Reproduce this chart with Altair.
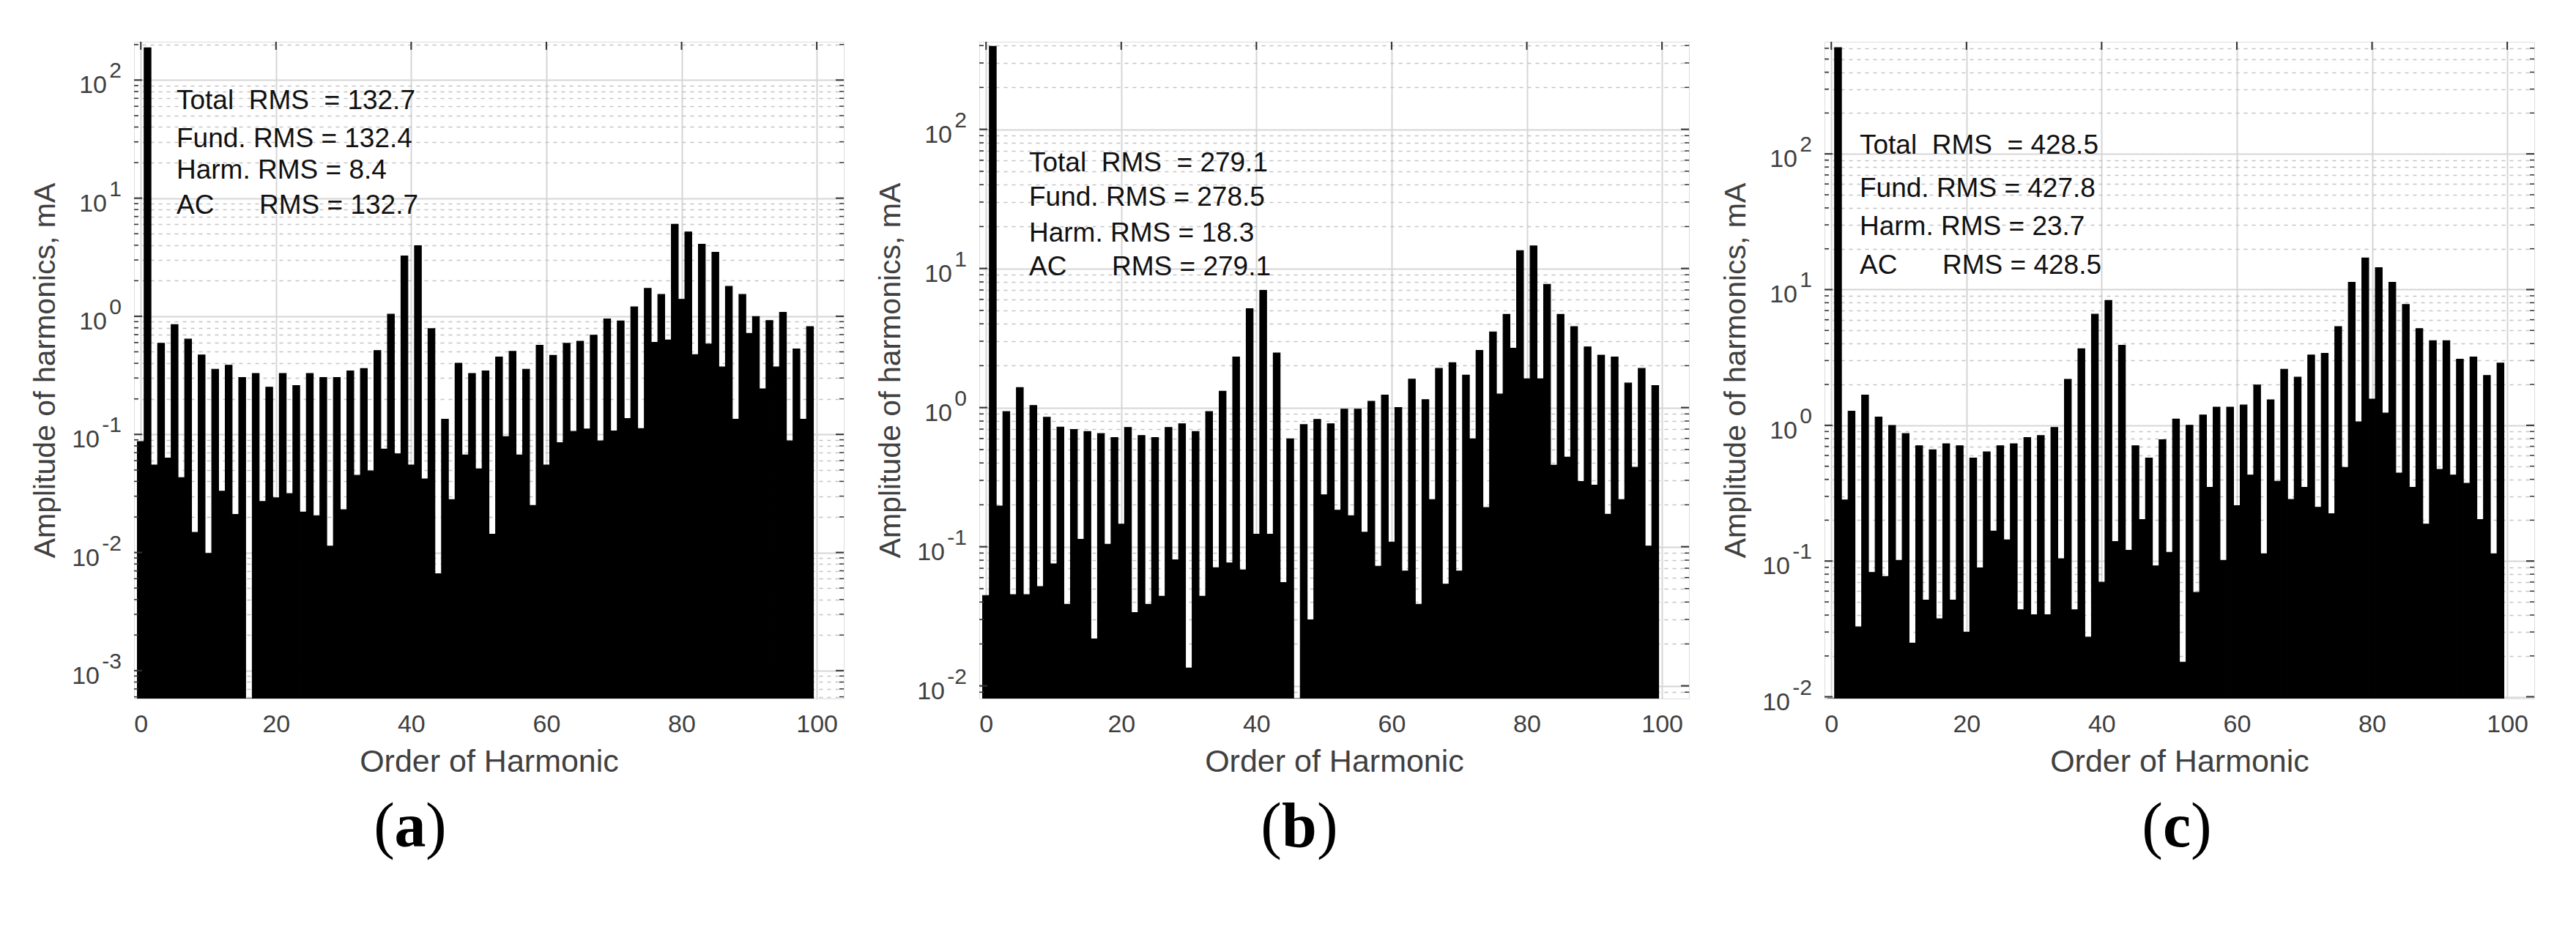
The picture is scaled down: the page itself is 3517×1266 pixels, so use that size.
import math
import altair as alt
import pandas as pd

orders = list(range(100))

amp_a = [0.087, 187, 0.055, 0.59, 0.063, 0.85, 0.043, 0.64, 0.0148, 0.47,
         0.0098, 0.356, 0.033, 0.385, 0.021, 0.303, 0.0003, 0.328, 0.027, 0.251,
         0.029, 0.328, 0.0315, 0.259, 0.022, 0.328, 0.0205, 0.303, 0.0113, 0.303,
         0.023, 0.344, 0.045, 0.361, 0.049, 0.512, 0.075, 1.04, 0.0685, 3.24,
         0.055, 3.95, 0.042, 0.785, 0.0066, 0.134, 0.028, 0.40, 0.067, 0.328,
         0.051, 0.344, 0.0143, 0.451, 0.0955, 0.504, 0.067, 0.356, 0.025, 0.568,
         0.055, 0.466, 0.085, 0.59, 0.106, 0.614, 0.111, 0.691, 0.088, 0.949,
         0.107, 0.912, 0.136, 1.20, 0.112, 1.72, 0.60, 1.53, 0.629, 6.01,
         1.39, 5.17, 0.473, 4.07, 0.581, 3.48, 0.372, 1.79, 0.134, 1.53,
         0.715, 0.995, 0.243, 0.92, 0.372, 1.08, 0.088, 0.528, 0.134, 0.817]

amp_b = [0.0446, 394, 0.196, 0.935, 0.0452, 1.39, 0.0452, 1.035, 0.0517, 0.851,
         0.0753, 0.724, 0.0385, 0.695, 0.113, 0.672, 0.0217, 0.650, 0.104, 0.608,
         0.145, 0.719, 0.0336, 0.629, 0.0385, 0.608, 0.044, 0.719, 0.0805, 0.764,
         0.0134, 0.672, 0.044, 0.935, 0.0705, 1.31, 0.0764, 2.31, 0.068, 5.14,
         0.123, 6.95, 0.123, 2.47, 0.0553, 0.596, 0.005, 0.754, 0.0298, 0.822,
         0.236, 0.764, 0.183, 0.973, 0.167, 0.973, 0.127, 1.11, 0.0724, 1.23,
         0.108, 1.0, 0.0668, 1.60, 0.0385, 1.14, 0.218, 1.91, 0.0538, 2.10,
         0.0668, 1.71, 0.596, 2.57, 0.191, 3.50, 1.25, 4.67, 2.67, 13.4,
         1.61, 14.5, 1.61, 7.69, 0.385, 4.67, 0.440, 3.82, 0.294, 2.73,
         0.277, 2.38, 0.171, 2.31, 0.218, 1.50, 0.372, 1.91, 0.101, 1.44]

amp_c = [0.005, 605, 0.282, 1.27, 0.0327, 1.67, 0.0824, 1.15, 0.0769, 0.998,
         0.101, 0.869, 0.0248, 0.706, 0.0515, 0.659, 0.0375, 0.731, 0.0515, 0.706,
         0.0299, 0.574, 0.0889, 0.637, 0.166, 0.706, 0.143, 0.731, 0.0437, 0.811,
         0.0402, 0.839, 0.0402, 0.964, 0.104, 2.18, 0.0437, 3.66, 0.0275, 6.58,
         0.0698, 8.32, 0.139, 3.89, 0.120, 0.706, 0.202, 0.574, 0.092, 0.783,
         0.116, 1.11, 0.018, 1.0, 0.0587, 1.19, 0.349, 1.36, 0.101, 1.36,
         0.256, 1.41, 0.43, 1.98, 0.113, 1.54, 0.387, 2.59, 0.284, 2.26,
         0.349, 3.29, 0.249, 3.39, 0.223, 5.34, 0.49, 11.3, 1.06, 17.1,
         1.56, 14.5, 1.23, 11.3, 0.445, 7.76, 0.349, 5.16, 0.187, 4.20,
         0.473, 4.20, 0.43, 3.07, 0.374, 3.18, 0.202, 2.33, 0.113, 2.87]

total_rms = ["132.7", "279.1", "428.5"]
fund_rms = ["132.4", "278.5", "427.8"]
harm_rms = ["8.4", "18.3", "23.7"]
ac_rms = ["132.7", "279.1", "428.5"]
letters = ["a", "b", "c"]
y_limits = [(5.8e-4, 211), (0.0081, 426), (0.0097, 670)]
x_ticks = [0, 20, 40, 60, 80, 100]

W, H = 969, 897
NB = "\u00a0"
FONT = "Liberation Sans"
GREY = "#404040"

# per-panel annotation placement (pixels inside the plot)
text_x = [58, 68, 48]
text_rows = [[81, 133, 176, 224], [166, 213, 262, 308], [142, 201, 253, 306]]
letter_x = [377, 437, 481]
letter_half = [21, 24, 19]


def panel(i, amps):
    ymin, ymax = y_limits[i]
    bars = pd.DataFrame({"n": orders, "v": amps})
    bars["lo"] = bars["n"] - 0.5
    bars["hi"] = bars["n"] + 0.5

    majors, minors = [], []
    for e in range(-5, 4):
        for m in range(1, 10):
            val = m * 10.0 ** e
            if ymin <= val <= ymax:
                (majors if m == 1 else minors).append(val)
    grid_vals = sorted(majors + minors)

    test = "abs(log(datum.value)/LN10 - round(log(datum.value)/LN10)) < 0.001"
    yaxis = alt.Axis(
        values=grid_vals, labels=False, ticks=False, tickSize=0, domain=False,
        grid=True,
        gridColor={"condition": {"test": test, "value": "#d6d6d6"}, "value": "#c4c4c4"},
        gridDash={"condition": {"test": test, "value": []}, "value": [5, 6]},
        gridWidth={"condition": {"test": test, "value": 2}, "value": 1.5},
        title="Amplitude of harmonics, mA", titleFont=FONT, titleFontSize=41,
        titleFontWeight="normal", titleColor=GREY, titlePadding=100,
    )
    yscale = alt.Scale(type="log", domain=[ymin, ymax], nice=False)
    xaxis = alt.Axis(
        values=x_ticks, grid=True, gridColor="#d6d6d6", gridWidth=2,
        ticks=False, tickSize=0, domain=False, labelFont=FONT, labelFontSize=34,
        labelColor=GREY, labelPadding=18, labelFlush=False,
        title="Order of Harmonic", titleFont=FONT, titleFontSize=43,
        titleFontWeight="normal", titleColor=GREY, titlePadding=13,
    )
    xscale = alt.Scale(domain=[-1, 104], nice=False, zero=False)

    def Y(field="v"):
        return alt.Y(f"{field}:Q", scale=yscale, axis=yaxis)

    def X(field):
        return alt.X(f"{field}:Q", scale=xscale, axis=xaxis)

    bar = alt.Chart(bars).mark_bar(
        color="black", clip=True, stroke="black", strokeWidth=1.2
    ).encode(x=X("lo"), x2="hi", y=Y(), y2=alt.datum(ymin))

    maj_df = pd.DataFrame({"v": majors})
    min_df = pd.DataFrame({"v": minors})
    tick_col = "#333333"
    lt_major = alt.Chart(maj_df).mark_rule(color=tick_col, strokeWidth=2).encode(
        y=Y(), x=alt.value(0), x2=alt.value(11))
    lt_minor = alt.Chart(min_df).mark_rule(color=tick_col, strokeWidth=1.5).encode(
        y=Y(), x=alt.value(0), x2=alt.value(6))
    rt_major = alt.Chart(maj_df).mark_rule(color=tick_col, strokeWidth=2).encode(
        y=Y(), x=alt.value(W), x2=alt.value(W - 11))
    rt_minor = alt.Chart(min_df).mark_rule(color=tick_col, strokeWidth=1.5).encode(
        y=Y(), x=alt.value(W), x2=alt.value(W - 6))
    xt_df = pd.DataFrame({"t": x_ticks})
    top_t = alt.Chart(xt_df).mark_rule(color=tick_col, strokeWidth=2).encode(
        x=X("t"), y=alt.value(0), y2=alt.value(11))

    # y tick labels drawn as "10" with a raised exponent
    lab = pd.DataFrame({"v": majors})
    lab["e"] = [str(round(math.log10(v))) for v in majors]
    lab["neg"] = lab["e"].str.startswith("-")
    exp_t = alt.Chart(lab).mark_text(
        font=FONT, fontSize=30, color=GREY, align="right", baseline="middle", dy=-12
    ).encode(y=Y(), x=alt.value(-17), text="e:N")
    base_pos = alt.Chart(lab).transform_filter("!datum.neg").mark_text(
        font=FONT, fontSize=34, color=GREY, align="right", baseline="middle", dy=8
    ).encode(y=Y(), x=alt.value(-37), text=alt.value("10"))
    base_neg = alt.Chart(lab).transform_filter("datum.neg").mark_text(
        font=FONT, fontSize=34, color=GREY, align="right", baseline="middle", dy=8
    ).encode(y=Y(), x=alt.value(-47), text=alt.value("10"))

    lines = [
        f"Total{NB}{NB}RMS{NB}{NB}={NB}{total_rms[i]}",
        f"Fund.{NB}RMS{NB}={NB}{fund_rms[i]}",
        f"Harm.{NB}RMS{NB}={NB}{harm_rms[i]}",
        f"AC{NB*6}RMS{NB}={NB}{ac_rms[i]}",
    ]
    ann_layers = []
    for k, line in enumerate(lines):
        ann_layers.append(
            alt.Chart(pd.DataFrame({"s": [line]})).mark_text(
                font=FONT, fontSize=37, color="#111111", align="left", baseline="middle"
            ).encode(x=alt.value(text_x[i]), y=alt.value(text_rows[i][k]), text="s:N")
        )

    one = pd.DataFrame({"s": [letters[i]]})
    ly = H + 176
    cx = letter_x[i]
    hw = letter_half[i]
    serif = "Liberation Serif"
    lpar = alt.Chart(one).mark_text(font=serif, fontSize=86, color="black",
                                     align="right", baseline="middle").encode(
        x=alt.value(cx - hw), y=alt.value(ly), text=alt.value("("))
    let = alt.Chart(one).mark_text(font=serif, fontSize=86, fontWeight="bold",
                                    color="black", align="center", baseline="middle").encode(
        x=alt.value(cx), y=alt.value(ly), text="s:N")
    rpar = alt.Chart(one).mark_text(font=serif, fontSize=86, color="black",
                                     align="left", baseline="middle").encode(
        x=alt.value(cx + hw), y=alt.value(ly), text=alt.value(")"))

    return alt.layer(
        bar, lt_major, lt_minor, rt_major, rt_minor, top_t,
        exp_t, base_pos, base_neg, *ann_layers, lpar, let, rpar
    ).properties(width=W, height=H)


chart = alt.hconcat(
    panel(0, amp_a), panel(1, amp_b), panel(2, amp_c), spacing=40
).properties(
    padding={"left": 32, "top": 47, "right": 5, "bottom": 5}
).configure_view(
    stroke="#333333", strokeWidth=2
).configure(background="white")

chart.save("out.html", embed_options={"renderer": "svg", "actions": False})
